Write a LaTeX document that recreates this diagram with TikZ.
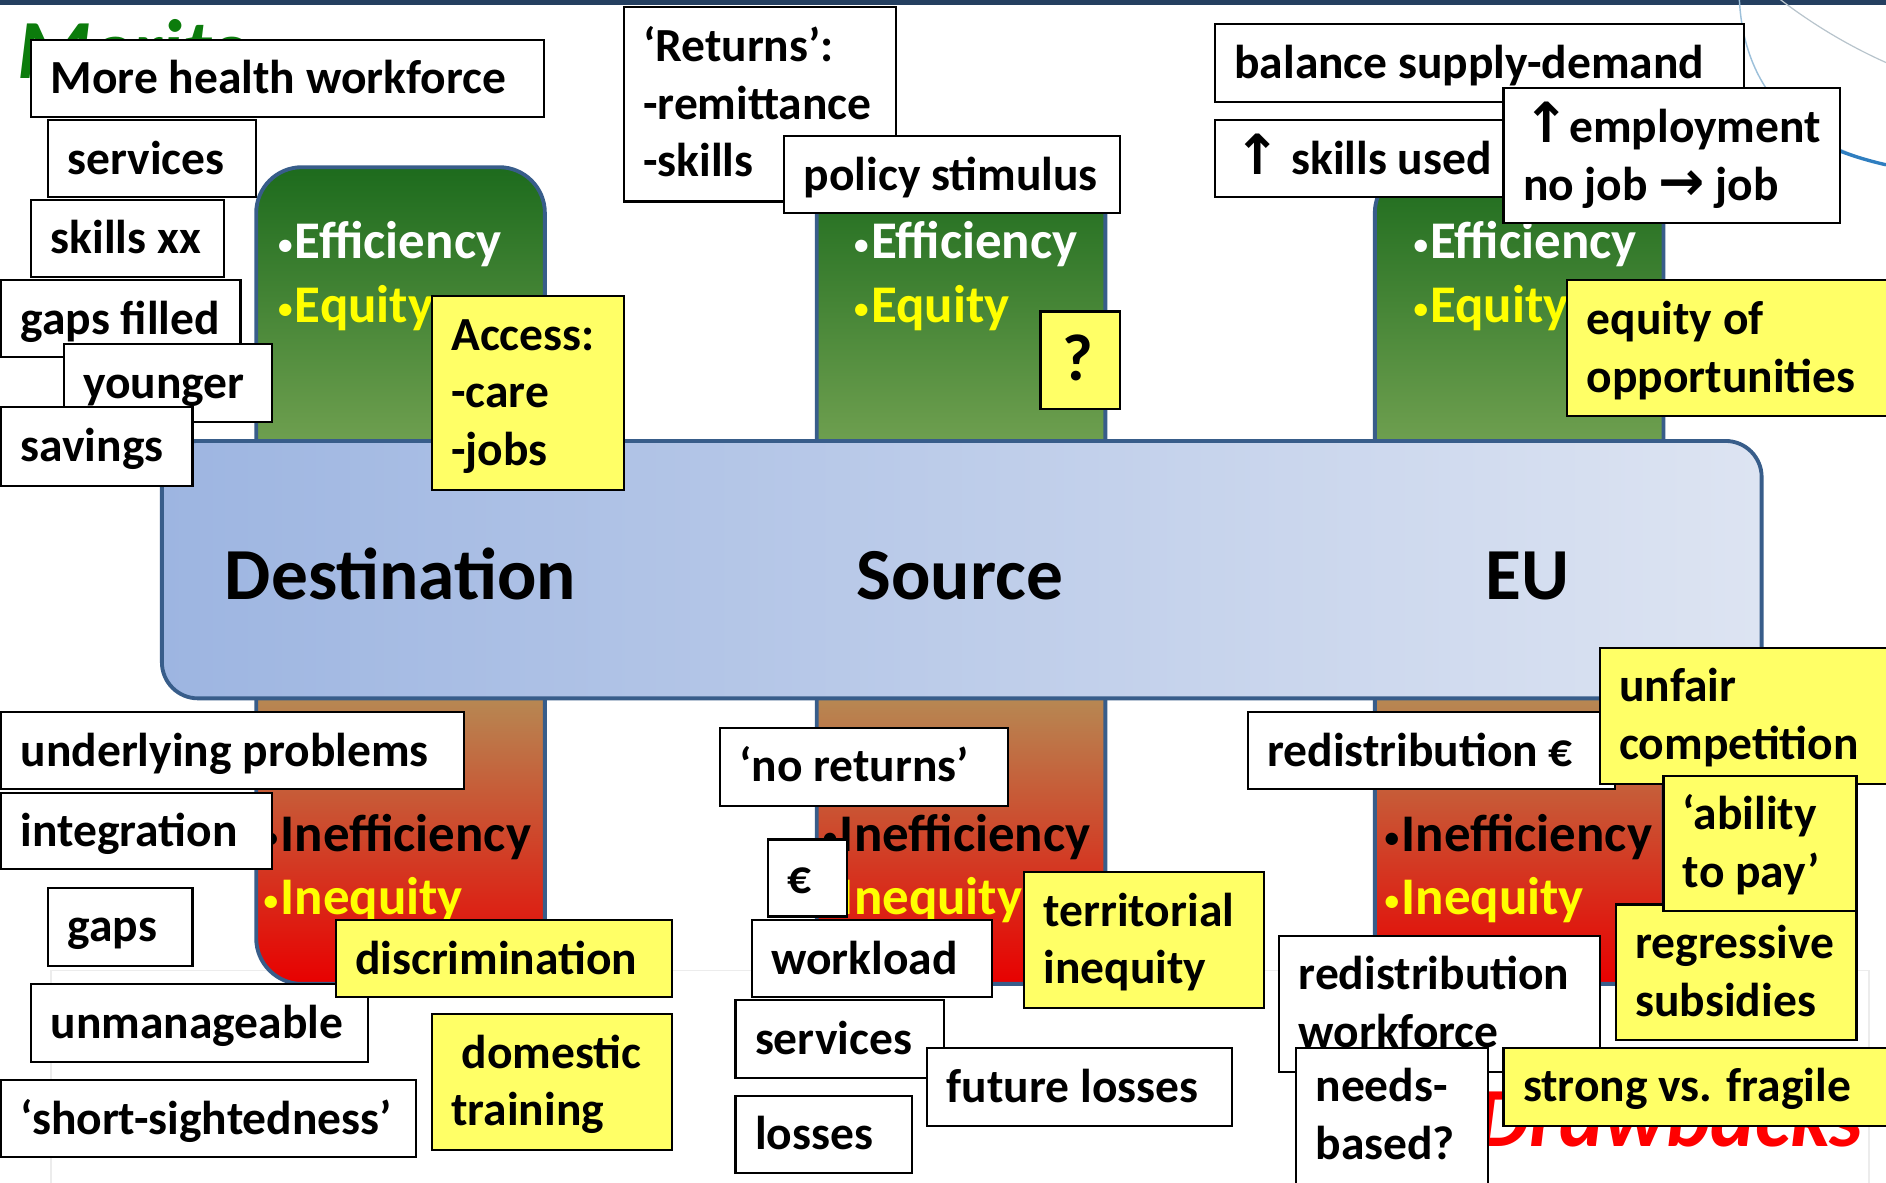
\documentclass[tikz,border=0pt]{standalone}
\usepackage{fontspec}
\usepackage{graphicx}
\setmainfont{Carlito}
\newfontfamily\symfont{DejaVu Sans}
\usetikzlibrary{calc}

\definecolor{navy}{HTML}{243F60}
\definecolor{frame}{HTML}{385D8A}
\definecolor{note}{HTML}{FFFF66}
\definecolor{meritgreen}{HTML}{0C7C0C}
\definecolor{greentop}{HTML}{1D6B1D}
\definecolor{greenbot}{HTML}{6E9F4F}
\definecolor{redtop}{HTML}{B68A54}
\definecolor{redbot}{HTML}{E80000}
\definecolor{barleft}{HTML}{9DB5E1}
\definecolor{barright}{HTML}{DDE4F2}
\definecolor{pureyellow}{HTML}{FFFF00}
\definecolor{arcthin}{HTML}{9CC0DA}
\definecolor{arcgray}{HTML}{B8C4CC}
\definecolor{arcblue}{HTML}{2F7EC0}

\newcommand\cardfont{\fontsize{39.5}{48}\selectfont\bfseries}
\newcommand\pillarfont{\fontsize{44}{53}\selectfont\bfseries}
\newcommand\bandfont{\fontsize{61}{73}\selectfont\bfseries}
\newcommand\titlefont{\fontsize{70}{84}\selectfont\bfseries\itshape}
\newcommand\arr[1]{{\symfont\fontsize{46}{48}\selectfont #1}}
\newcommand\blt{\raisebox{0.07em}{\scalebox{0.55}{•}}\hspace{2pt}}

\tikzset{
  card/.style={draw=black, line width=1.8pt, fill=white, inner sep=0pt,
    outer sep=0pt, anchor=north west},
  cardtext/.style={anchor=base west, inner sep=0pt, font=\cardfont},
  pillartext/.style={anchor=base west, inner sep=0pt, font=\pillarfont},
  pillarframe/.style={draw=frame, line width=3.2pt, rounded corners=38pt},
}

% \card[fill]{name}{x1}{y1}{x2}{y2}{lines}
\newcommand\card[7][white]{%
  \node[card, fill=#1, minimum width={#5-#3}, minimum height={#6-#4}] (#2) at (#3,#4) {};
  \node[cardtext] (#2-text) at ({#3+16},{#4+45})
    {\begin{tabular}[t]{@{}l@{}}#7\end{tabular}};
}

\begin{document}
\begin{tikzpicture}[x=1pt, y=-1pt]
\useasboundingbox (0,0) rectangle (1568,983);
\clip (0,0) rectangle (1568,983);
\fill[white] (0,0) rectangle (1568,983);

% slide decoration
\fill[navy] (0,0) rectangle (1568,4);
\draw[gray!15, line width=1.2pt] (42.5,1000) -- (42.5,807) -- (1554,807) -- (1554,1000);
\draw[arcthin, line width=1.2pt] (1446,-2) .. controls (1449,70) and (1490,118) .. (1568,137);
\draw[arcblue, line width=2.8pt] (1522,122.5) .. controls (1540,130) and (1555,134) .. (1568,137);
\draw[arcgray, line width=1pt] (1478,-2) .. controls (1500,15) and (1530,35) .. (1568,52);

% headings
\node[anchor=base west, inner sep=0pt, font=\titlefont, text=meritgreen] (merits) at (14,65) {Merits};

% pillars: merits on top, drawbacks below
\foreach \px/\nm in {213/destination, 679/source, 1143/eu}{
  \path[pillarframe, top color=greentop, bottom color=greenbot]
    (\px,367) -- (\px,139) -- ({\px+240},139) -- ({\px+240},367);
  \path[pillarframe, top color=redtop, bottom color=redbot]
    (\px,577) -- (\px,818) -- ({\px+240},818) -- ({\px+240},577);
}

% central band
\node[draw=frame, line width=3.2pt, rounded corners=30pt, left color=barleft,
  right color=barright, minimum width=1330pt, minimum height=214pt, inner sep=0pt,
  anchor=north west] (band) at (133,365) {};
\node[anchor=base, inner sep=0pt, font=\bandfont] (destination) at (333,498) {Destination};
\node[anchor=base, inner sep=0pt, font=\bandfont] (source) at (798,498) {Source};
\node[anchor=base, inner sep=0pt, font=\bandfont] (eu) at (1270,498) {EU};

% pillar bullets
\node[pillartext, text=white] (d-eff) at (231,215) {\blt Efficiency};
\node[pillartext, text=pureyellow] (d-eq) at (231,268) {\blt Equity};
\node[pillartext, text=white] (s-eff) at (710,215) {\blt Efficiency};
\node[pillartext, text=pureyellow] (s-eq) at (710,268) {\blt Equity};
\node[pillartext, text=white] (e-eff) at (1175,215) {\blt Efficiency};
\node[pillartext, text=pureyellow] (e-eq) at (1175,268) {\blt Equity};
\node[pillartext, text=black] (d-ineff) at (219,708) {\blt Inefficiency};
\node[pillartext, text=pureyellow] (d-ineq) at (219,760) {\blt Inequity};
\node[pillartext, text=black] (s-ineff) at (684,708) {\blt Inefficiency};
\node[pillartext, text=pureyellow] (s-ineq) at (684,760) {\blt Inequity};
\node[pillartext, text=black] (e-ineff) at (1151,708) {\blt Inefficiency};
\node[pillartext, text=pureyellow] (e-ineq) at (1151,760) {\blt Inequity};

% destination, merits
\card{mhw}{26}{33}{452}{97.5}{More health workforce}
\card{servA}{40}{100}{213}{164}{services}
\card{skills}{26}{166}{186}{230.5}{skills xx}
\card{gapsf}{1}{233}{200}{297}{gaps filled}
\card{younger}{53}{286}{226}{350.5}{younger}
\card{savings}{1}{338.5}{160}{404}{savings}
\card[note]{access}{359}{246}{519}{407.5}{Access:\\-care\\-jobs}

% source, merits
\card{returns}{518.5}{6}{745}{167.5}{‘Returns’:\\-remittance\\-skills}
\card{policy}{652}{113}{931}{177}{policy stimulus}
\node[card, fill=note, minimum width=66pt, minimum height=81pt] (query) at (865,259) {};
\node[anchor=base, inner sep=0pt, font=\fontsize{55}{66}\selectfont\bfseries] (query-text) at (896,316) {?};

% EU, merits
\card{balance}{1010}{20}{1450}{84.5}{balance supply-demand}
\card{skused}{1010}{100}{1260}{164}{\arr{↑} skills used}
\card{employ}{1250}{73.5}{1530}{185.5}{\arr{↑}employment\\no job \arr{→} job}
\card[note]{eqopp}{1303}{233}{1580}{346}{equity of\\opportunities}

% destination, drawbacks
\card{underlying}{1}{592}{386}{656}{underlying problems}
\card{integration}{1}{659}{226}{722.5}{integration}
\card{gapsB}{40}{738}{160}{803}{gaps}
\card{unmanage}{26}{818}{306}{883}{unmanageable}
\card[note]{discrim}{279}{765}{559}{829}{discrimination}
\card{shortsight}{1}{898}{346}{962}{‘short-sightedness’}
\card[note]{domestic}{359}{843}{559}{956}{\hspace*{8.5pt}domestic\\training}

% source, drawbacks
\card{noreturns}{598.5}{605}{838}{670}{‘no returns’}
\card{euro}{638.5}{698}{704}{762}{€}
\card{workload}{625}{765}{825}{829}{workload}
\card[note]{territorial}{851.5}{725}{1051}{838}{territorial\\inequity}
\card{servB}{611.5}{831.5}{785}{896}{services}
\card{future}{771}{871.5}{1024}{936}{future losses}
\card{losses}{611.5}{911}{758.5}{975.5}{losses}

% EU, drawbacks
\card{redeuro}{1037.5}{592}{1343}{656}{redistribution €}
\card[note]{unfair}{1330}{538.5}{1580}{651.5}{unfair\\competition}
\card[note]{regressive}{1343.5}{752}{1543.5}{864.5}{regressive\\subsidies}
\card[note]{ability}{1383}{645}{1543.5}{757.5}{‘ability\\to pay’}
\card{redwork}{1063.5}{778}{1330}{891}{redistribution\\workforce}
\node[anchor=base east, inner sep=0pt, font=\titlefont, text=red] (drawbacks) at (1549,953) {Drawbacks};
\card{needs}{1077.5}{871}{1237}{1000}{needs-\\based?}
\card[note]{strong}{1250}{871}{1580}{936}{strong vs. fragile}
\end{tikzpicture}
\end{document}
